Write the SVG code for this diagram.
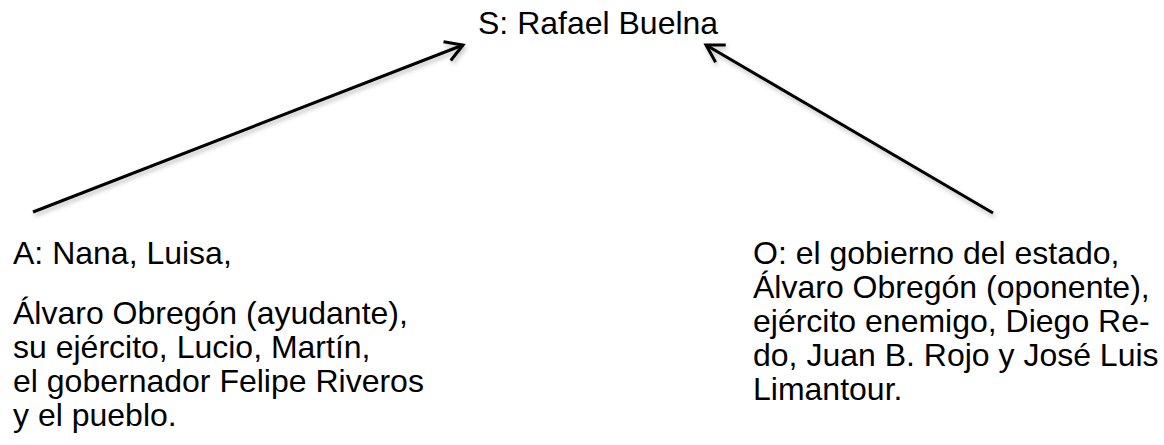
<svg xmlns="http://www.w3.org/2000/svg" width="1164" height="445" viewBox="0 0 1164 445">
<style>
text{font-family:"Liberation Sans",Arial,sans-serif;font-size:32px;fill:#000}
.c{stroke:#000;stroke-width:3;fill:none}
</style>
<defs>
<filter id="sh" x="-10%" y="-10%" width="120%" height="130%">
<feDropShadow dx="1.5" dy="3" stdDeviation="2" flood-color="#000" flood-opacity="0.25"/>
</filter>
<marker id="ah" markerWidth="24" markerHeight="24" refX="17" refY="10" orient="auto" markerUnits="userSpaceOnUse" viewBox="-2 -2 22 24">
<path d="M0,0 L17,10 L0,20" fill="none" stroke="#000" stroke-width="3" stroke-linejoin="miter"/>
</marker>
</defs>
<rect width="1164" height="445" fill="#fff"/>
<g id="connectors" filter="url(#sh)">
<line class="c" x1="33" y1="212" x2="463" y2="45" marker-end="url(#ah)"/>
<line class="c" x1="993" y1="213" x2="706" y2="45" marker-end="url(#ah)"/>
</g>
<g id="node-S"><text x="478" y="34">S: Rafael Buelna</text></g>
<g id="node-A">
<text x="13" y="264">A: Nana, Luisa,</text>
<text x="13" y="324">Álvaro Obregón (ayudante),</text>
<text x="13" y="358">su ejército, Lucio, Martín,</text>
<text x="13" y="392">el gobernador Felipe Riveros</text>
<text x="13" y="426">y el pueblo.</text>
</g>
<g id="node-O">
<text x="753" y="264">O: el gobierno del estado,</text>
<text x="753" y="298">Álvaro Obregón (oponente),</text>
<text x="753" y="332">ejército enemigo, Diego Re-</text>
<text x="753" y="366">do, Juan B. Rojo y José Luis</text>
<text x="753" y="400">Limantour.</text>
</g>
</svg>
